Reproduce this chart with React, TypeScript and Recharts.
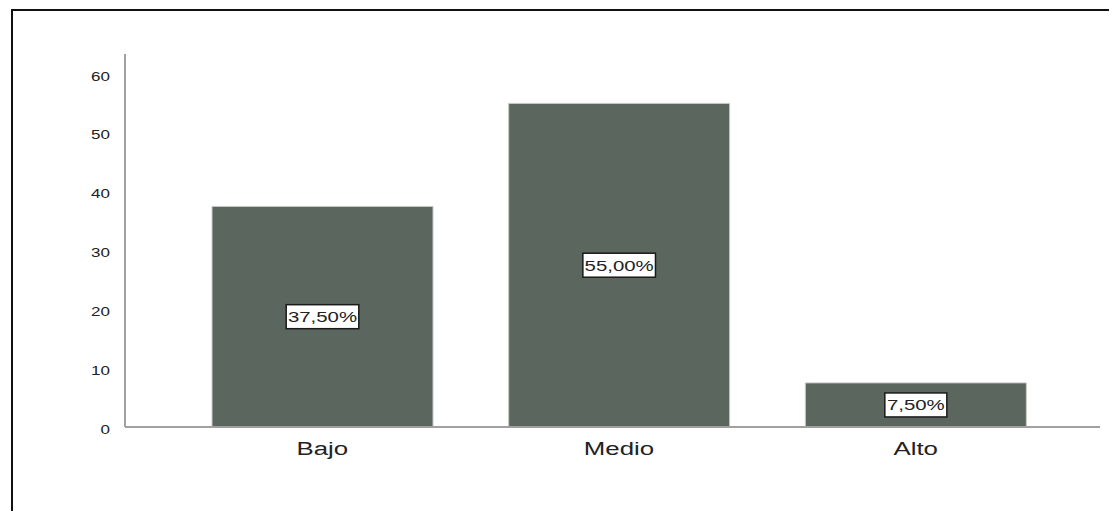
import React from "react";
import { BarChart, Bar, XAxis, YAxis, LabelList } from "recharts";

const categories = ["Bajo", "Medio", "Alto"];
const values = [37.5, 55.0, 7.5];
const yTicks = [0, 10, 20, 30, 40, 50, 60];

const data = categories.map((c, i) => ({ name: c, value: values[i] }));

const FONT = "'Liberation Sans', Arial, sans-serif";
const SX = 1.36;

const fmt = (v: number) => v.toFixed(2).replace(".", ",") + "%";

const BoxLabel = (props: any) => {
  const { x, y, width, height, value } = props;
  const cx = x + width / 2;
  const cy = y + height / 2;
  const text = fmt(Number(value));
  const w = text.length * 10.6 + 9;
  const h = 24;
  return (
    <g>
      <rect x={cx - w / 2} y={cy - h / 2} width={w} height={h} fill="#ffffff" stroke="#1a1a1a" strokeWidth={1.5} />
      <g transform={`translate(${cx},${cy + 5.5}) scale(${SX},1)`}>
        <text x={0} y={0} textAnchor="middle" fontSize={15} fontFamily={FONT} fill="#222">
          {text}
        </text>
      </g>
    </g>
  );
};

const YTick = (props: any) => {
  const { x, y, payload } = props;
  return (
    <g transform={`translate(${x},${y + 6.5}) scale(${SX},1)`}>
      <text x={0} y={0} textAnchor="end" fontSize={12.5} fontFamily={FONT} fill="#222">
        {payload.value}
      </text>
    </g>
  );
};

const XTick = (props: any) => {
  const { x, payload } = props;
  return (
    <g transform={`translate(${x},${455}) scale(${SX},1)`}>
      <text x={0} y={0} textAnchor="middle" fontSize={19} fontFamily={FONT} fill="#222">
        {payload.value}
      </text>
    </g>
  );
};

export default function App() {
  return (
    <div style={{ position: "relative", width: 1117, height: 519, margin: -8, overflow: "hidden", background: "#fff" }}>
      <div
        style={{
          position: "absolute",
          left: 11,
          top: 9,
          width: 1200,
          height: 600,
          borderLeft: "2px solid #111",
          borderTop: "2px solid #111",
        }}
      />
      <div style={{ position: "absolute", left: 0, top: 0 }}>
        <BarChart
          width={1117}
          height={519}
          data={data}
          margin={{ top: 54, right: 17, bottom: 62, left: 65 }}
          barSize={221}
        >
          <XAxis
            dataKey="name"
            height={30}
            padding={{ left: 49, right: 36 }}
            axisLine={{ stroke: "#a0a0a0", strokeWidth: 2 }}
            tickLine={false}
            tick={<XTick />}
          />
          <YAxis
            width={60}
            domain={[0, 63.4]}
            ticks={yTicks}
            allowDataOverflow
            axisLine={{ stroke: "#a0a0a0", strokeWidth: 2 }}
            tickLine={false}
            tickMargin={9}
            tick={<YTick />}
          />
          <Bar dataKey="value" fill="#5b665e" stroke="#c8cbc8" strokeWidth={1} isAnimationActive={false}>
            <LabelList dataKey="value" content={<BoxLabel />} />
          </Bar>
        </BarChart>
      </div>
    </div>
  );
}
